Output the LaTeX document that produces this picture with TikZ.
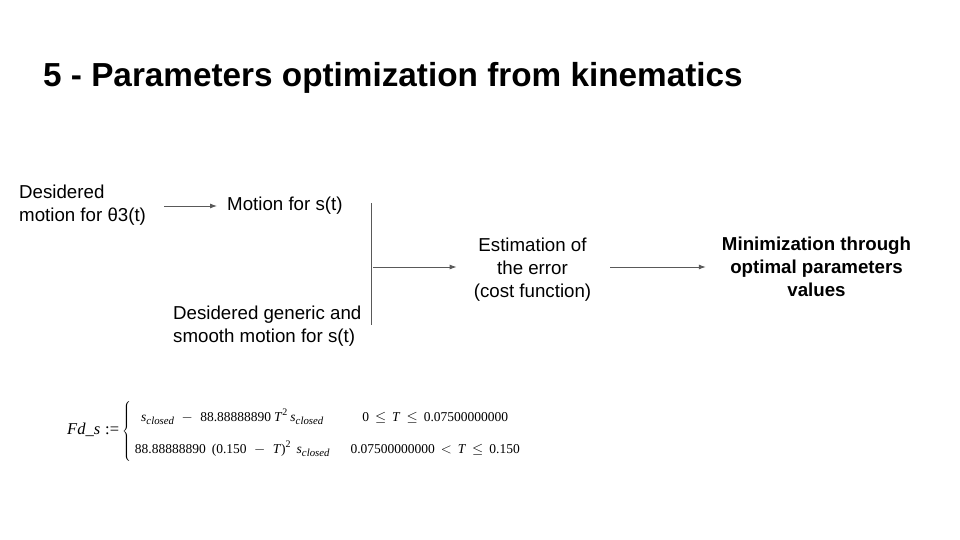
\documentclass[tikz,border=0pt]{standalone}
\usepackage{fontspec}
\setmainfont{Liberation Sans}
\newfontfamily\tnr{Liberation Serif}
\usetikzlibrary{arrows.meta}
\definecolor{linegray}{HTML}{595959}
\newcommand\scl{\textit{s}\raisebox{-3.2pt}{\fontsize{10.8}{12}\selectfont\textit{closed}}}
\newcommand\sqr{\raisebox{5.5pt}{\fontsize{10}{12}\selectfont 2}}
\newcommand\relop[1]{\hspace{6pt}#1\hspace{6pt}}
\newcommand\minop{\hspace{7.5pt}$-$\hspace{7.5pt}}
\tikzset{
  body/.style={inner sep=0pt, font=\fontsize{18.7}{23}\selectfont, text=black},
  conn/.style={draw=linegray, line width=0.9pt, -{Latex[length=7pt,width=5pt]}},
  plain/.style={draw=linegray, line width=0.9pt},
}
\begin{document}
\begin{tikzpicture}[x=1pt,y=-1pt]
\useasboundingbox[fill=white] (0,0) rectangle (960,540);
\node[anchor=base west, inner sep=0pt, font=\bfseries\fontsize{33.3}{38}\selectfont] (title) at (43,87) {5 - Parameters optimization from kinematics};

\node[body, anchor=west, align=left] (theta) at (19,205) {Desidered\\motion for θ3(t)};
\node[body, anchor=west] (motion) at (227,206) {Motion for s(t)};
\node[body, anchor=west, align=left] (generic) at (173,326) {Desidered generic and\\smooth motion for s(t)};
\node[body, align=center] (est) at (532.5,270) {Estimation of\\the error\\(cost function)};
\node[body, align=center, font=\bfseries\fontsize{18.7}{23}\selectfont] (mini) at (816.5,267) {Minimization through\\optimal parameters\\values};

\coordinate (vtop) at (371,203);
\coordinate (vbot) at (371,325);
\coordinate (junc) at (373,267);

\draw[conn, shorten <=18pt, shorten >=10pt] (theta.east|-motion.west) -- (motion.west);
\draw[plain] (vtop) -- (vbot);
\draw[conn, shorten >=17pt] (junc) -- (est.west|-junc);
\draw[conn, shorten <=19pt, shorten >=16pt] (est.east|-junc) -- (mini.west|-junc);

\node[anchor=west, inner sep=0pt, font=\tnr\fontsize{13.5}{16}\selectfont] (fd) at (67,431) {{\fontsize{16.5}{18}\selectfont\textit{Fd\_s}\hspace{5pt}:=}\hspace{3pt}$\left\{\renewcommand{\arraystretch}{2}\begin{tabular}{@{\hspace{4pt}}c@{\hspace{21pt}}c@{}}
\scl\minop88.88888890\hspace{3pt}\textit{T}\sqr\hspace{3pt}\scl & 0\relop{$\le$}\textit{T}\relop{$\le$}0.07500000000 \\
88.88888890\hspace{6pt}(0.150\minop\textit{T})\sqr\hspace{6pt}\scl & 0.07500000000\relop{$<$}\textit{T}\relop{$\le$}0.150
\end{tabular}\right.$};
\end{tikzpicture}
\end{document}
